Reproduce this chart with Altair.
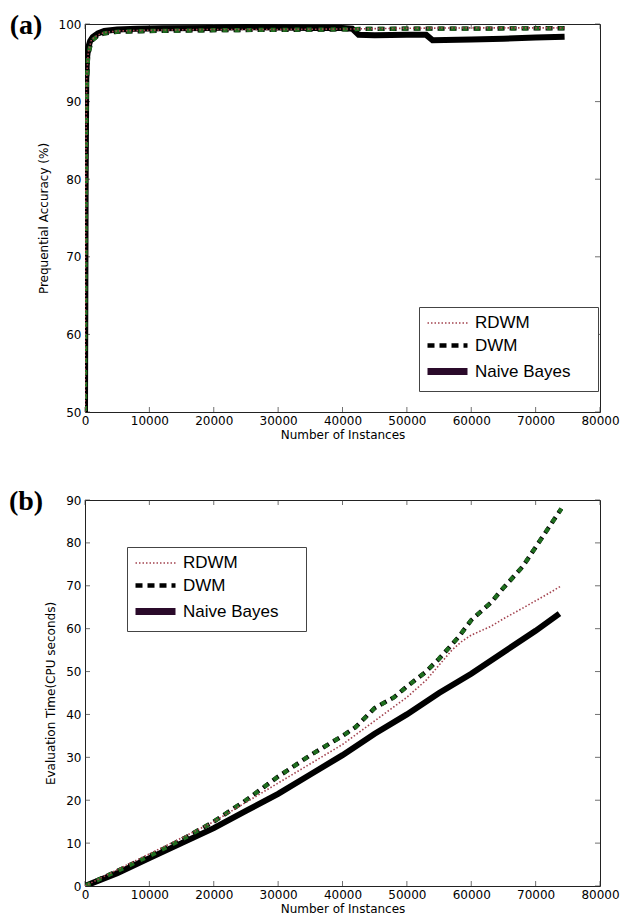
import altair as alt
import pandas as pd

SERIES = ["RDWM", "DWM", "Naive Bayes"]

# ---------- Panel (a): prequential accuracy ----------
a_nb_x = [0, 100, 200, 300, 500, 800, 1200, 2000, 3000, 5000, 8000, 12000, 20000, 25000,
          30000, 35000, 40000, 41500, 42500, 45000, 50000, 53000, 54000, 60000, 65000, 70000, 74500]
a_nb_y = [50, 80, 93, 95.5, 97, 97.8, 98.3, 98.8, 99.1, 99.3, 99.4, 99.45, 99.5, 99.6,
          99.55, 99.5, 99.5, 99.4, 98.6, 98.55, 98.6, 98.6, 97.9, 98.0, 98.1, 98.25, 98.35]
a_dwm_x = [0, 150, 300, 500, 1000, 2000, 3000, 5000, 10000, 20000, 30000, 40000, 42000,
           50000, 60000, 70000, 74500]
a_dwm_y = [50, 85, 93, 96, 97.8, 98.5, 98.8, 99.0, 99.1, 99.2, 99.25, 99.3, 99.35,
           99.4, 99.4, 99.45, 99.45]
a_rdwm_x = [0, 120, 250, 500, 1000, 2000, 3000, 5000, 10000, 20000, 30000, 40000,
            50000, 60000, 70000, 74500]
a_rdwm_y = [50, 82, 93, 96.3, 98, 98.6, 98.9, 99.1, 99.2, 99.3, 99.3, 99.35,
            99.45, 99.5, 99.5, 99.5]

# ---------- Panel (b): evaluation time ----------
b_nb_x = [0, 5000, 10000, 15000, 20000, 25000, 30000, 35000, 40000, 45000, 50000,
          55000, 60000, 65000, 70000, 73700]
b_nb_y = [0, 3, 6.5, 10, 13.5, 17.5, 21.5, 26, 30.5, 35.5, 40, 45, 49.5, 54.5, 59.5, 63.5]
b_dwm_x = [0, 5000, 10000, 15000, 20000, 25000, 30000, 35000, 40000, 42000, 45000, 48000,
           50000, 53000, 55000, 58000, 60000, 63000, 65000, 68000, 70000, 72000, 74000]
b_dwm_y = [0, 3.5, 7, 10.8, 15, 20, 25.5, 30.5, 35, 37, 41.5, 44, 46.5, 50, 53, 58, 62,
           66, 69.5, 74.5, 79, 83.5, 88]
b_rdwm_x = [0, 5000, 10000, 15000, 20000, 25000, 30000, 35000, 40000, 45000, 50000, 53000,
            55000, 57000, 58500, 60000, 63000, 65000, 68000, 70000, 72000, 74000]
b_rdwm_y = [0, 3.8, 7.5, 11.2, 15, 19.5, 24, 28.5, 33, 38.5, 44, 48, 51.5, 55, 57, 58.5,
            60.5, 62.3, 64.8, 66.5, 68.2, 70]

x_ticks = [0, 10000, 20000, 30000, 40000, 50000, 60000, 70000, 80000]
a_y_ticks = [50, 60, 70, 80, 90, 100]
b_y_ticks = [0, 10, 20, 30, 40, 50, 60, 70, 80, 90]
panel_labels = ["(a)", "(b)"]

W = 515
FONT = "DejaVu Sans"


def frame(xs, ys, name):
    return pd.DataFrame({"x": xs, "y": ys, "series": name})


def panel(nb, dwm, rdwm, ydom, yticks, ytitle, H, label, legx, legy):
    xenc = alt.X("x:Q", scale=alt.Scale(domain=[0, 80000], nice=False, zero=False),
                 axis=alt.Axis(values=x_ticks, ticks=False, domain=False, grid=False,
                               title="Number of Instances", labelFont=FONT, labelFontSize=12,
                               labelColor="black", titleFont=FONT, titleFontSize=12,
                               titleFontWeight="normal", titleColor="black",
                               labelPadding=3, titlePadding=3, format="d",
                               labelFlush=False))
    yenc = alt.Y("y:Q", scale=alt.Scale(domain=ydom, nice=False, zero=False),
                 axis=alt.Axis(values=yticks, ticks=False, domain=False, grid=False,
                               title=ytitle, labelFont=FONT, labelFontSize=12,
                               labelColor="black", titleFont=FONT, titleFontSize=12,
                               titleFontWeight="normal", titleColor="black",
                               labelPadding=4, titlePadding=8, format="d",
                               labelFlush=False))
    leg = alt.Legend(title=None, orient="none", legendX=legx, legendY=legy,
                     symbolType="M-1,0H3M14.1,0", symbolSize=400,
                     labelFont="Liberation Sans", labelFontSize=17, labelColor="black",
                     fillColor="white", strokeColor="#444", padding=5, rowPadding=2,
                     labelOffset=24)
    color = alt.Color("series:N", scale=alt.Scale(domain=SERIES,
                      range=["#a3434f", "#000000", "#2a0a2a"]), legend=leg)
    dash = alt.StrokeDash("series:N", scale=alt.Scale(domain=SERIES,
                          range=[[1.5, 2], [7, 5], [1, 0]]), legend=leg)
    width = alt.StrokeWidth("series:N", scale=alt.Scale(domain=SERIES,
                            range=[1.6, 7, 5]), legend=leg)
    enc = dict(x=xenc, y=yenc, color=color, strokeDash=dash, strokeWidth=width)

    nb_layer = alt.Chart(nb).mark_line(clip=True, color="black", strokeWidth=6).encode(
        x=xenc, y=yenc)
    nb_leg = alt.Chart(nb).mark_line(clip=True, opacity=0.0).encode(**enc)
    dwm_layer = alt.Chart(dwm).mark_line(clip=True).encode(**enc)
    dwm_green = alt.Chart(dwm).mark_line(clip=True, color="#1f6e1f", strokeWidth=4.2,
                                         strokeDash=[5, 7], strokeDashOffset=-1).encode(
        x=xenc, y=yenc)
    rdwm_layer = alt.Chart(rdwm).mark_line(clip=True).encode(**enc)

    xt = pd.DataFrame({"x": x_ticks})
    yt = pd.DataFrame({"y": list(yticks)})
    tick_b = alt.Chart(xt).mark_tick(orient="vertical", size=5, thickness=1,
                                     color="#333").encode(x=xenc, y=alt.value(H - 2.5))
    tick_t = alt.Chart(xt).mark_tick(orient="vertical", size=5, thickness=1,
                                     color="#333").encode(x=xenc, y=alt.value(2.5))
    tick_l = alt.Chart(yt).mark_tick(orient="horizontal", size=5, thickness=1,
                                     color="#333").encode(y=yenc, x=alt.value(2.5))
    tick_r = alt.Chart(yt).mark_tick(orient="horizontal", size=5, thickness=1,
                                     color="#333").encode(y=yenc, x=alt.value(W - 2.5))
    lab = alt.Chart(pd.DataFrame({"t": [label]})).mark_text(
        font="Liberation Serif", fontSize=28, fontWeight="bold", color="black",
        align="center", baseline="middle").encode(
        text="t:N", x=alt.value(-59), y=alt.value(2))

    return alt.layer(tick_b, tick_t, tick_l, tick_r, nb_layer, nb_leg, dwm_layer, dwm_green,
                     rdwm_layer, lab).properties(width=W, height=H)


a_nb = frame(a_nb_x, a_nb_y, "Naive Bayes")
a_dwm = frame(a_dwm_x, a_dwm_y, "DWM")
a_rdwm = frame(a_rdwm_x, a_rdwm_y, "RDWM")
b_nb = frame(b_nb_x, b_nb_y, "Naive Bayes")
b_dwm = frame(b_dwm_x, b_dwm_y, "DWM")
b_rdwm = frame(b_rdwm_x, b_rdwm_y, "RDWM")

top = panel(a_nb, a_dwm, a_rdwm, [50, 100], a_y_ticks, "Prequential Accuracy (%)",
            388, panel_labels[0], 334, 283)
bottom = panel(b_nb, b_dwm, b_rdwm, [0, 90], b_y_ticks, "Evaluation Time(CPU seconds)",
               386, panel_labels[1], 42, 47)

chart = alt.vconcat(top, bottom, spacing=46).resolve_scale(
    color="independent", strokeDash="independent", strokeWidth="independent"
).resolve_legend(
    color="independent", strokeDash="independent", strokeWidth="independent"
).properties(padding={"left": 0, "top": 3, "right": 0, "bottom": 0}).configure_view(
    stroke="#222", strokeWidth=1
)

chart.save("out.html", embed_options={"renderer": "svg", "actions": False})
